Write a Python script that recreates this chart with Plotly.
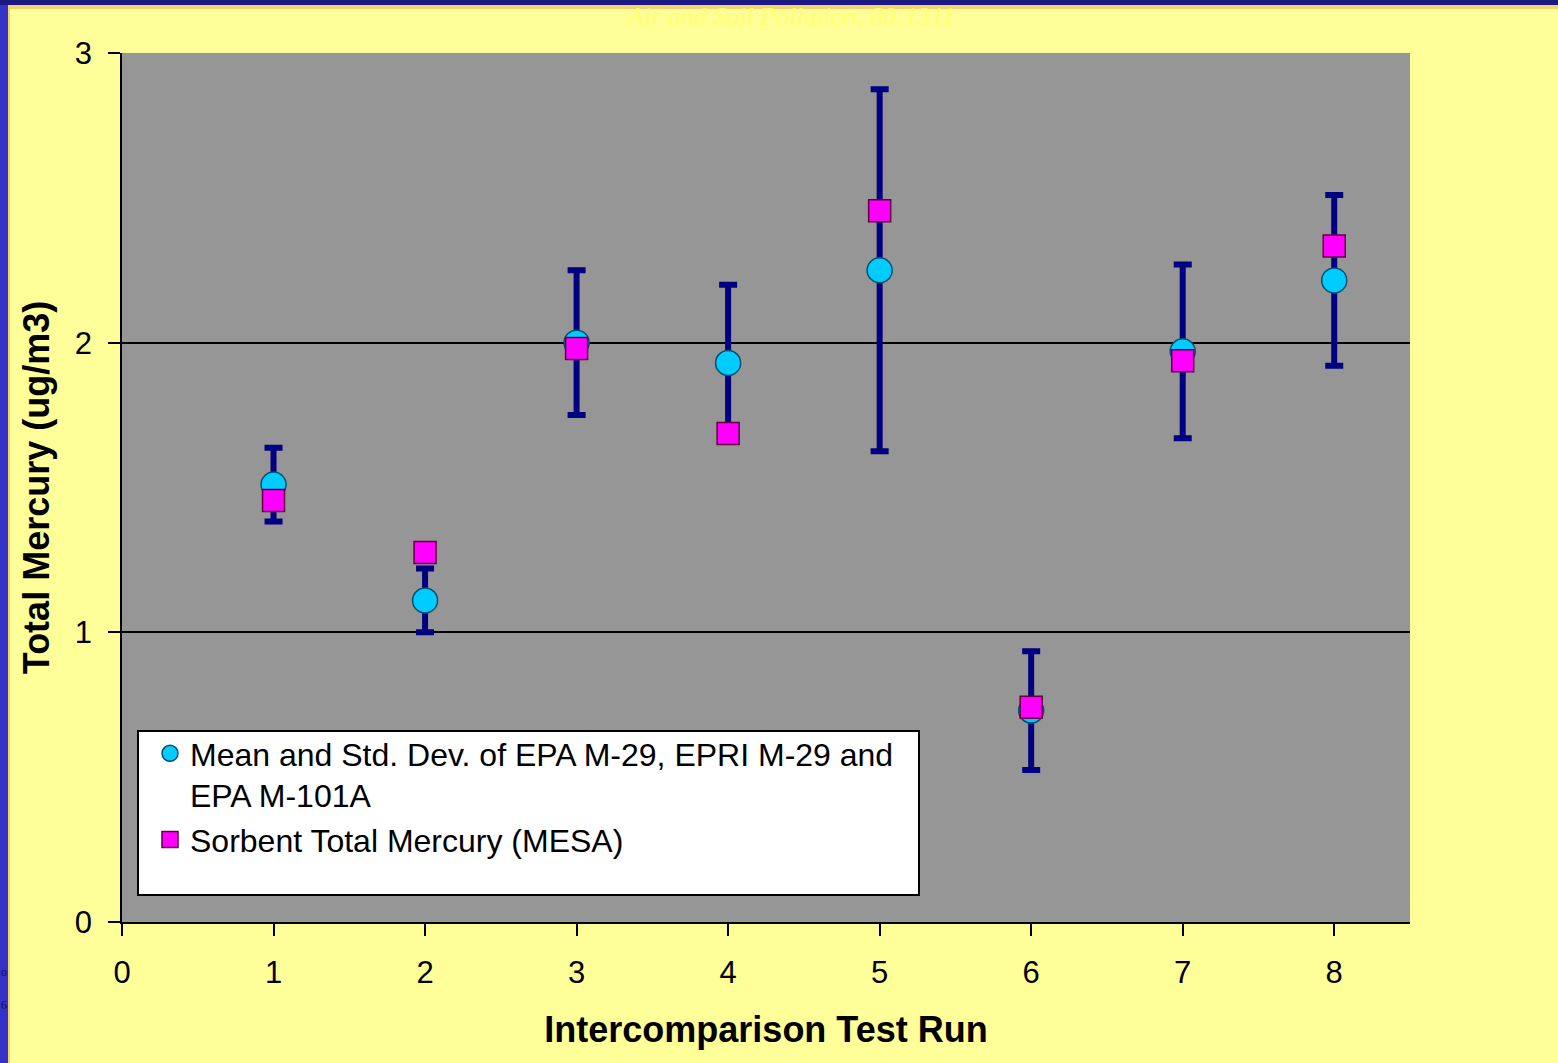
import plotly.graph_objects as go

# ---- data ----
runs = [1, 2, 3, 4, 5, 6, 7, 8]
mean_ref = [1.51, 1.11, 2.00, 1.93, 2.25, 0.73, 1.97, 2.215]
std_ref = [0.127, 0.11, 0.25, 0.27, 0.625, 0.205, 0.30, 0.295]
sorbent = [1.455, 1.276, 1.98, 1.686, 2.455, 0.741, 1.938, 2.334]

x_ticks = [0, 1, 2, 3, 4, 5, 6, 7, 8]
y_ticks = [0, 1, 2, 3]

name_ref = "Mean and Std. Dev. of EPA M-29, EPRI M-29 and<br>EPA M-101A"
name_sorb = "Sorbent Total Mercury (MESA)"

W, H = 1558, 1063
ML, MR, MT, MB = 122, 148, 53, 141
PW, PH = W - ML - MR, H - MT - MB

def px(xp):
    return (xp - ML) / PW

def py(yp):
    return (H - MB - yp) / PH

FONT = "Liberation Sans, Arial, sans-serif"

fig = go.Figure()
fig.add_trace(go.Scatter(
    x=runs, y=mean_ref, mode="markers", name=name_ref,
    marker=dict(symbol="circle", size=25, color="#00CCFF",
                line=dict(color="#005070", width=1.5)),
    error_y=dict(type="data", array=std_ref, visible=True,
                 color="#000080", thickness=6, width=9),
))
fig.add_trace(go.Scatter(
    x=runs, y=sorbent, mode="markers", name=name_sorb,
    marker=dict(symbol="square", size=22, color="#FF00FF",
                line=dict(color="#600040", width=1.5)),
))

shapes = [
    # left blue strip
    dict(type="rect", xref="paper", yref="paper", x0=px(0), x1=px(8), y0=py(H), y1=py(0),
         fillcolor="#3333C8", line=dict(width=0), layer="below"),
    dict(type="rect", xref="paper", yref="paper", x0=px(8), x1=px(10), y0=py(H), y1=py(5),
         fillcolor="#F8D070", line=dict(width=0), layer="below"),
    # top dark band
    dict(type="rect", xref="paper", yref="paper", x0=px(0), x1=px(W), y0=py(5), y1=py(0),
         fillcolor="#1A1A80", line=dict(width=0), layer="below"),
    dict(type="rect", xref="paper", yref="paper", x0=px(8), x1=px(W), y0=py(9), y1=py(5),
         fillcolor="#F8D070", line=dict(width=0), layer="below"),
    # legend box
    dict(type="rect", xref="paper", yref="paper", x0=px(138), x1=px(919), y0=py(895), y1=py(731),
         fillcolor="white", line=dict(color="black", width=2), layer="above"),
]

annotations = [
    dict(text="<i>Air and Soil Pollution, 80:1311</i>", xref="paper", yref="paper",
         x=px(790), y=py(0), xanchor="center", yanchor="top", showarrow=False,
         font=dict(family="Liberation Serif, Times New Roman, serif", size=26, color="#FFFF70")),
    dict(text="o", xref="paper", yref="paper", x=px(0), y=py(972), xanchor="left", yanchor="middle",
         showarrow=False, borderpad=0,
         font=dict(family="Liberation Serif, serif", size=12, color="#101040")),
    dict(text="6", xref="paper", yref="paper", x=px(0), y=py(1005), xanchor="left", yanchor="middle",
         showarrow=False, borderpad=0,
         font=dict(family="Liberation Serif, serif", size=12, color="#101040")),
]

fig.update_layout(
    width=W, height=H,
    margin=dict(l=ML, r=MR, t=MT, b=MB, autoexpand=False),
    paper_bgcolor="#FFFF99",
    plot_bgcolor="#969696",
    font=dict(family=FONT, color="black"),
    shapes=shapes,
    annotations=annotations,
    showlegend=True,
    legend=dict(x=px(150), y=py(726), xanchor="left", yanchor="top",
                bgcolor="rgba(0,0,0,0)", borderwidth=0, valign="top",
                font=dict(family=FONT, size=32, color="black"),
                tracegroupgap=0),
    xaxis=dict(range=[0, 8.5], tickvals=x_ticks, ticktext=[str(v) for v in x_ticks],
               showgrid=False, zeroline=False, showline=True, linecolor="black", linewidth=1.5,
               ticks="outside", ticklen=12, tickwidth=1.5, tickcolor="black",
               tickfont=dict(size=31, family=FONT), ticklabelstandoff=10,
               title=dict(text="<b>Intercomparison Test Run</b>", font=dict(size=36, family=FONT),
                          standoff=28)),
    yaxis=dict(range=[0, 3], tickvals=y_ticks, ticktext=[str(v) for v in y_ticks],
               showgrid=True, gridcolor="black", gridwidth=1.5, zeroline=False,
               showline=True, linecolor="black", linewidth=1.5,
               ticks="outside", ticklen=12, tickwidth=1.5, tickcolor="black",
               tickfont=dict(size=31, family=FONT), ticklabelstandoff=10,
               title=dict(text="<b>Total Mercury (ug/m3)</b>", font=dict(size=36, family=FONT),
                          standoff=14)),
)

fig.write_html("out.html", config={"displayModeBar": False},
               post_script="document.body.style.margin='0';")
